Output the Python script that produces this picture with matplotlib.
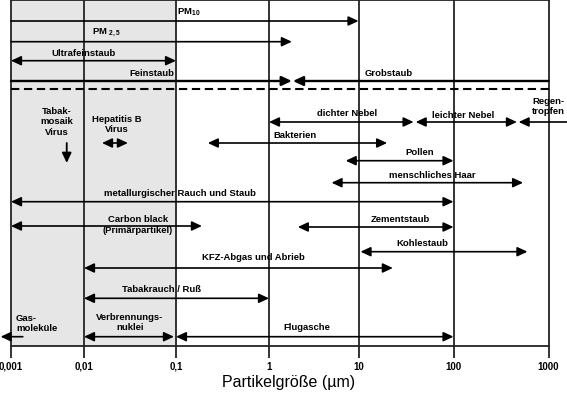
import numpy as np
import matplotlib
matplotlib.use("Agg")
import matplotlib.pyplot as plt

plt.rcParams['font.family'] = ['Liberation Sans', 'DejaVu Sans']
plt.rcParams['mathtext.default'] = 'regular'

# ---------------- data (particle sizes in µm) ----------------
decades = [0.001, 0.01, 0.1, 1, 10, 100, 1000]
decade_labels = ['0,001', '0,01', '0,1', '1', '10', '100', '1000']

range_names = ['PM10', 'PM2,5', 'Ultrafeinstaub', 'Feinstaub', 'Grobstaub',
               'dichter Nebel', 'leichter Nebel', 'Regentropfen', 'Hepatitis B Virus',
               'Bakterien', 'Pollen', 'menschliches Haar',
               'metallurgischer Rauch und Staub', 'Carbon black', 'Zementstaub',
               'Kohlestaub', 'KFZ-Abgas und Abrieb', 'Tabakrauch / Ruß',
               'Gasmoleküle', 'Verbrennungsnuklei', 'Flugasche']
size_min = [0.001, 0.001, 0.001, 0.001, 1.85,
            1.0, 40, 485, 0.0157,
            0.22, 7.2, 5.0,
            0.001, 0.001, 2.1,
            10.5, 0.01, 0.01,
            0.00072, 0.01, 0.1]
size_max = [10, 1.8, 0.1, 1.8, 1000,
            38, 465, 2000, 0.030,
            20, 100, 540,
            100, 0.19, 100,
            600, 23, 1.0,
            0.00145, 0.095, 100]
tmv_size = 0.0058  # Tabakmosaik-Virus

# ---------------- layout / styles ----------------
row_y = [21, 41.7, 60.7, 81, 81,
         122, 122, 122, 143,
         143, 160.7, 182.7,
         201.7, 226, 227,
         251.7, 268, 298.3,
         336.7, 336.7, 336.7]
heads = ['-|>', '-|>', '<|-|>', '-|>', '<|-',
         '<|-|>', '<|-|>', '<|-', '<|-|>',
         '<|-|>', '<|-|>', '<|-|>',
         '<|-|>', '<|-|>', '<|-|>',
         '<|-|>', '<|-|>', '<|-|>',
         '<|-', '<|-|>', '<|-|>']
thick = {'Feinstaub', 'Grobstaub'}

# labels: text, x pixel, y pixel, ha
labels = [
    ('PM$_{10}$', 177, 12, 'left'),
    ('PM $_{2,5}$', 92, 33, 'left'),
    ('Ultrafeinstaub', 83, 53, 'center'),
    ('Feinstaub', 174, 73, 'right'),
    ('Grobstaub', 365, 73, 'left'),
    ('dichter Nebel', 347, 114, 'center'),
    ('leichter Nebel', 463, 115, 'center'),
    ('Regen-\ntropfen', 548, 106.5, 'center'),
    ('Tabak-\nmosaik\nVirus', 57, 122, 'center'),
    ('Hepatitis B\nVirus', 117, 124.5, 'center'),
    ('Bakterien', 273, 136, 'left'),
    ('Pollen', 420, 152.6, 'center'),
    ('menschliches Haar', 432, 175.7, 'center'),
    ('metallurgischer Rauch und Staub', 180, 193, 'center'),
    ('Carbon black\n(Primärpartikel)', 138, 225, 'center'),
    ('Zementstaub', 400, 219, 'center'),
    ('Kohlestaub', 422, 244, 'center'),
    ('KFZ-Abgas und Abrieb', 253, 258, 'center'),
    ('Tabakrauch / Ruß', 161, 289, 'center'),
    ('Gas-\nmoleküle', 16, 323.5, 'left'),
    ('Verbrennungs-\nnuklei', 130, 322.5, 'center'),
    ('Flugasche', 307, 327, 'center'),
]

# ---------------- scale (decade spacing as drawn in the reference) ----------------
L = np.log10(decades)
P = np.array([11, 84, 176, 269, 358.5, 453.5, 548.5])


def fwd(x):
    lx = np.log10(np.maximum(np.asarray(x, float), 1e-12))
    out = np.interp(lx, L, P)
    out = np.where(lx < L[0], P[0] + (lx - L[0]) * (P[1] - P[0]), out)
    out = np.where(lx > L[-1], P[-1] + (lx - L[-1]) * (P[-1] - P[-2]), out)
    return out


def inv(p):
    p = np.asarray(p, float)
    lx = np.interp(p, P, L)
    lx = np.where(p < P[0], L[0] + (p - P[0]) / (P[1] - P[0]), lx)
    lx = np.where(p > P[-1], L[-1] + (p - P[-1]) / (P[-1] - P[-2]), lx)
    return 10 ** lx


W, H = 567, 395
AX_BOTTOM = 346
fig = plt.figure(figsize=(W / 100, H / 100), dpi=100)
ax = fig.add_axes([0, (H - AX_BOTTOM) / H, 1, AX_BOTTOM / H])
ax.set_xscale('function', functions=(fwd, inv))
ax.set_xlim(float(inv(0)), float(inv(W)))
ax.set_ylim(AX_BOTTOM, 0)

ax.set_yticks([])
ax.set_xticks(decades)
ax.set_xticklabels(decade_labels, fontsize=7, fontweight='bold')
ax.set_xticks([], minor=True)
ax.tick_params(axis='x', length=8.5, width=1.4, color='#333333', pad=3)
ax.grid(axis='x', color='#333333', lw=1.4, zorder=1)
for s in ['left', 'right']:
    ax.spines[s].set_visible(False)
for s in ['top', 'bottom']:
    ax.spines[s].set_bounds(decades[0], decades[-1])
    ax.spines[s].set_color('#222222')
    ax.spines[s].set_linewidth(1.3)

ax.axvspan(decades[0], 0.1, color='#e6e6e6', zorder=0, lw=0)

# dashed separator
ax.plot([decades[0], decades[-1]], [89, 89], color='black', lw=1.5,
        ls=(0, (4, 2.2)), zorder=2)

for name, lo, hi, y, hd in zip(range_names, size_min, size_max, row_y, heads):
    lw = 1.7 if name in thick else 1.2
    ax.annotate('', xy=(hi, y), xytext=(lo, y), annotation_clip=False,
                arrowprops=dict(arrowstyle=hd + ',head_length=0.6,head_width=0.28',
                                lw=lw, color='black', shrinkA=0, shrinkB=0,
                                mutation_scale=10), zorder=3)

# Tabakmosaik virus (vertical arrow)
ax.annotate('', xy=(tmv_size, 163), xytext=(tmv_size, 143), annotation_clip=False,
            arrowprops=dict(arrowstyle='-|>,head_length=0.6,head_width=0.28',
                            lw=1.3, color='black', shrinkA=0, shrinkB=0,
                            mutation_scale=10), zorder=3)

for txt, px, py, ha in labels:
    ax.text(float(inv(px)), py, txt, ha=ha, va='center', fontsize=6.8,
            fontweight='bold', linespacing=1.15, multialignment=ha, zorder=4,
            clip_on=False)

fig.text(289 / W, 1 - 383 / H, 'Partikelgröße (µm)', ha='center', va='center',
         fontsize=11.5)

fig.savefig('out.png', dpi=100)
